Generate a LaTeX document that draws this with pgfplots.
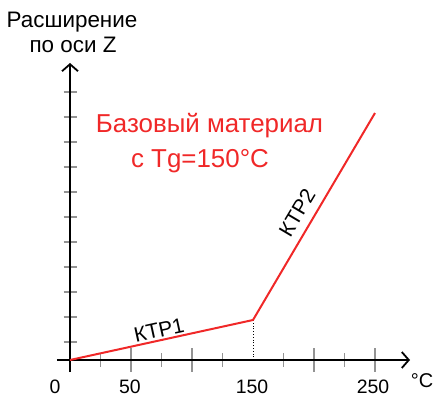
\documentclass[border=0pt]{standalone}
\usepackage{pgfplots}
\pgfplotsset{compat=1.18}
\usepackage{fontspec}
\setmainfont{Liberation Sans}
\usetikzlibrary{arrows.meta}
\definecolor{myred}{RGB}{240,40,40}
\begin{document}
\begin{tikzpicture}
\begin{axis}[at={(0bp,0bp)}, anchor=south west, scale only axis,
  width=353bp, height=309bp,
  xmin=-10.66, xmax=278.7, ymin=-0.48, ymax=11.88,
  axis lines=middle,
  axis line style={black, line width=1.8bp, -{Straight Barb[length=7bp,width=16bp,line width=1.8bp]}},
  xtick={50,100,200,250}, minor xtick={25,75,125,175,225},
  ytick={100}, minor ytick={0.72,1.72,2.72,3.72,4.72,5.72,6.72,7.72,8.72,9.72,10.72},
  xticklabels={}, yticklabels={},
  tick align=center, major tick length=23bp, minor tick length=13bp,
  tick style={gray!85, line width=1.2bp},
  clip=false]
\addplot[black, dotted, line width=0.8bp] coordinates {(150,0) (150,1.6)};
\addplot[myred, line width=2bp] coordinates {(0,0) (150,1.6) (250,9.88)};
\end{axis}
\node[font=\fontsize{22.5}{26}\selectfont, anchor=base] at (15bp,344bp) {Расширение};
\node[font=\fontsize{22.5}{26}\selectfont, anchor=base] at (16bp,319bp) {по оси Z};
\node[font=\fontsize{26}{30}\selectfont, text=myred, anchor=base] at (152.5bp,239bp) {Базовый материал};
\node[font=\fontsize{26}{30}\selectfont, text=myred, anchor=base] at (143bp,204bp) {с Tg=150°C};
\node[font=\fontsize{20}{24}\selectfont, anchor=base] at (365bp,-15bp) {°C};
\node[font=\fontsize{19.5}{23}\selectfont, anchor=base] at (-2bp,-21bp) {0};
\node[font=\fontsize{19.5}{23}\selectfont, anchor=base] at (73bp,-21bp) {50};
\node[font=\fontsize{19.5}{23}\selectfont, anchor=base] at (195bp,-21bp) {150};
\node[font=\fontsize{19.5}{23}\selectfont, anchor=base] at (316bp,-21bp) {250};
\node[font=\fontsize{21}{25}\selectfont, rotate=12.4, inner sep=1bp] at (102bp,42bp) {КТР1};
\node[font=\fontsize{21}{25}\selectfont, rotate=59.3, inner sep=1bp] at (240bp,159bp) {КТР2};
\pgfresetboundingbox
\path (-57bp,-24bp) rectangle (377bp,372bp);
\end{tikzpicture}
\end{document}
